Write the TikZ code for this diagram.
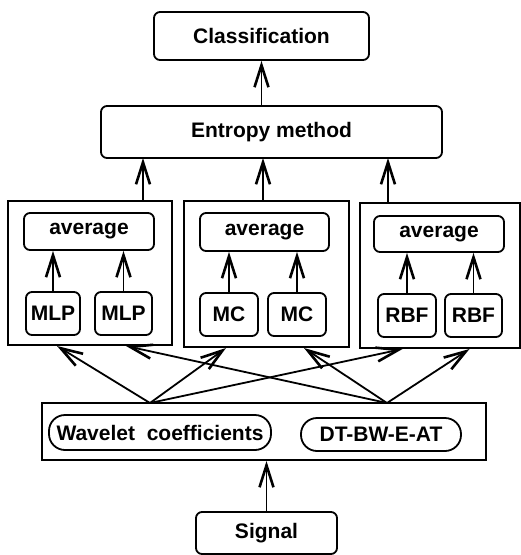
\documentclass[tikz,border=0pt]{standalone}
\usepackage{fontspec}
\setmainfont{Liberation Sans}
\usetikzlibrary{arrows.meta}

\begin{document}
\begin{tikzpicture}[x=1pt, y=-1pt,
            font=\fontsize{21}{24}\selectfont\bfseries,
            box/.style={draw, line width=1.8pt, rounded corners=6pt, inner sep=0pt},
            pill/.style={draw, line width=1.8pt, rounded corners=16pt, inner sep=0pt},
            frame/.style={draw, line width=2pt, inner sep=0pt},
            arr/.style={line width=1.8pt, -{Straight Barb[length=22pt, width=14pt, line width=2.6pt]}}]
        \useasboundingbox (0,0) rectangle (521,555);

        % top
        \node (cls) [box, minimum width=215pt, minimum height=48pt] at (261.5,36) {Classification};
        \node (ent) [box, minimum width=341pt, minimum height=52pt] at (271.5,132) {Entropy method};

        % three groups
        \node (grp1) [frame, minimum width=164pt, minimum height=144pt] at (90,273) {};
        \node (grp2) [frame, minimum width=165pt, minimum height=146pt] at (266.5,274) {};
        \node (grp3) [frame, minimum width=160pt, minimum height=145pt] at (439.5,275.5) {};

        \node (avg1) [box, minimum width=130pt, minimum height=37pt] at (89,231.5) {average};
        \node (avg2) [box, minimum width=129pt, minimum height=38pt] at (264.5,232) {average};
        \node (avg3) [box, minimum width=130pt, minimum height=36pt] at (439,234) {average};

        \node (mlp1) [box, minimum width=54pt, minimum height=43pt] at (53,313.5) {MLP};
        \node (mlp2) [box, minimum width=57pt, minimum height=43pt] at (123.5,313.5) {MLP};
        \node (mc1) [box, minimum width=58pt, minimum height=43pt] at (229,314.5) {MC};
        \node (mc2) [box, minimum width=58pt, minimum height=43pt] at (297,314.5) {MC};
        \node (rbf1) [box, minimum width=58pt, minimum height=43pt] at (407,315.5) {RBF};
        \node (rbf2) [box, minimum width=57pt, minimum height=43pt] at (473.5,315.5) {RBF};

        % features and signal
        \node (feat) [frame, minimum width=444pt, minimum height=57pt] at (264,431.5) {};
        \node (wav) [pill, minimum width=222pt, minimum height=35pt] at (160,432.5) {Wavelet\ \ coefficients};
        \node (dt) [pill, minimum width=160pt, minimum height=33pt] at (381,434.5) {DT-BW-E-AT};
        \node (sig) [box, minimum width=141pt, minimum height=42pt] at (266.5,533) {Signal};

        \coordinate (e1) at (143,158);
        \coordinate (e2) at (263,158);
        \coordinate (e3) at (388,158);
        \coordinate (f1) at (150,403);
        \coordinate (f2) at (387,403);

        \draw [arr] (ent.north -| cls) -- (cls.south);
        \draw [arr] (grp1.north -| e1) -- (e1);
        \draw [arr] (grp2.north -| e2) -- (e2);
        \draw [arr] (grp3.north -| e3) -- (e3);

        \draw [arr] (mlp1) -- (avg1.south -| mlp1);
        \draw [arr] (mlp2) -- (avg1.south -| mlp2);
        \draw [arr] (mc1) -- (avg2.south -| mc1);
        \draw [arr] (mc2) -- (avg2.south -| mc2);
        \draw [arr] (rbf1) -- (avg3.south -| rbf1);
        \draw [arr] (rbf2) -- (avg3.south -| rbf2);

        \draw [arr] (f1) -- ([xshift=50pt]grp1.south west);
        \draw [arr] (f1) -- ([xshift=43pt]grp2.south west);
        \draw [arr] (f1) -- ([xshift=44pt]grp3.south west);
        \draw [arr] (f2) -- ([xshift=119pt]grp1.south west);
        \draw [arr] (f2) -- ([xshift=121pt]grp2.south west);
        \draw [arr] (f2) -- ([xshift=111pt]grp3.south west);

        \draw [arr] (sig) -- (feat.south -| sig);
    \end{tikzpicture}
\end{document}
